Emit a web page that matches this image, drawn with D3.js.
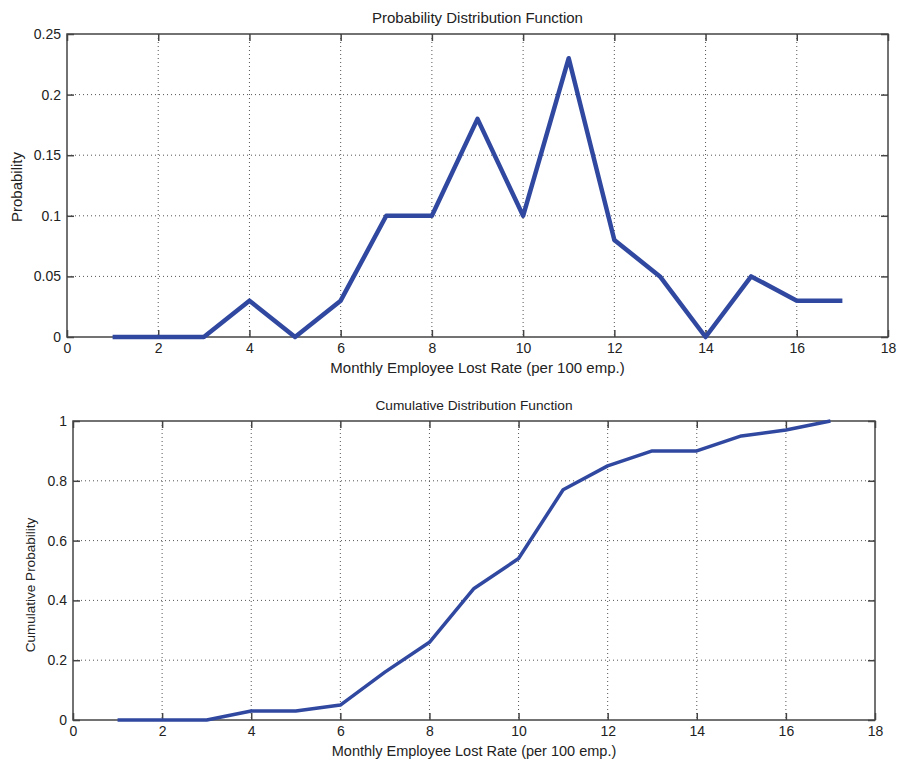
<!DOCTYPE html>
<html><head><meta charset="utf-8">
<script src="https://cdn.jsdelivr.net/npm/d3@7"></script>
<style>body{margin:0;background:#fff}svg{display:block}text{font-family:"Liberation Sans",Arial,sans-serif;fill:#222}</style>
</head><body>
<svg id="c" width="898" height="761"></svg>
<script>
const xs = [1,2,3,4,5,6,7,8,9,10,11,12,13,14,15,16,17];
const pdf = [0,0,0,0.03,0,0.03,0.1,0.1,0.18,0.1,0.23,0.08,0.05,0,0.05,0.03,0.03];
const cdf = [0,0,0,0.03,0.03,0.05,0.16,0.26,0.44,0.54,0.77,0.85,0.90,0.90,0.95,0.97,1.0];
const xTicks = [0,2,4,6,8,10,12,14,16,18];
const pdfTicks = [0,0.05,0.1,0.15,0.2,0.25];
const cdfTicks = [0,0.2,0.4,0.6,0.8,1];

const svg = d3.select("#c");

function panel(o){
  const g = svg.append("g");
  const x = d3.scaleLinear().domain([0,18]).range([o.l,o.r]);
  const y = d3.scaleLinear().domain(o.yd).range([o.b,o.t]);
  g.selectAll(".gx").data(xTicks.slice(1,-1)).join("line")
    .attr("x1",d=>x(d)).attr("x2",d=>x(d)).attr("y1",o.t).attr("y2",o.b)
    .attr("stroke","#555").attr("stroke-width",1).attr("stroke-dasharray","1,3");
  g.selectAll(".gy").data(o.yt.slice(1,-1)).join("line")
    .attr("y1",d=>y(d)).attr("y2",d=>y(d)).attr("x1",o.l).attr("x2",o.r)
    .attr("stroke","#555").attr("stroke-width",1).attr("stroke-dasharray","1,3");
  g.append("rect").attr("x",o.l).attr("y",o.t).attr("width",o.r-o.l).attr("height",o.b-o.t)
    .attr("fill","none").attr("stroke","#444").attr("stroke-width",1.5);
  const ax = d3.axisBottom(x).tickValues(xTicks).tickSize(-7).tickFormat(d3.format("d")).tickPadding(6);
  const axT = d3.axisTop(x).tickValues(xTicks).tickSize(-7).tickFormat("");
  const ay = d3.axisLeft(y).tickValues(o.yt).tickSize(-7).tickFormat(d=>String(d)).tickPadding(6);
  const ayR = d3.axisRight(y).tickValues(o.yt).tickSize(-7).tickFormat("");
  [[ax,`translate(0,${o.b})`],[axT,`translate(0,${o.t})`],[ay,`translate(${o.l},0)`],[ayR,`translate(${o.r},0)`]].forEach(([a,t])=>{
    const ga = g.append("g").attr("transform",t).call(a);
    ga.select(".domain").remove();
    ga.selectAll(".tick line").attr("stroke","#444").attr("stroke-width",1.5);
    ga.selectAll("text").style("font-size","14px").attr("fill","#222");
  });
  g.append("path").datum(xs.map((d,i)=>[d,o.v[i]]))
    .attr("d",d3.line().x(d=>x(d[0])).y(d=>y(d[1])))
    .attr("fill","none").attr("stroke","#3048a0").attr("stroke-width",o.lw).attr("stroke-linejoin","round");
  g.append("text").attr("x",(o.l+o.r)/2).attr("y",o.t-11).attr("text-anchor","middle").style("font-size",o.ts+"px").text(o.title);
  g.append("text").attr("x",(o.l+o.r)/2).attr("y",o.b+36).attr("text-anchor","middle").style("font-size",o.xs+"px").text("Monthly Employee Lost Rate (per 100 emp.)");
  g.append("text").attr("transform",`translate(${o.yl},${o.yc}) rotate(-90)`).attr("text-anchor","middle").style("font-size",o.ys+"px").text(o.ylab);
}

panel({l:67,r:888,t:34,b:337,yd:[0,0.25],yt:pdfTicks,v:pdf,title:"Probability Distribution Function",ylab:"Probability",yl:22,yc:187,lw:4.5,ts:15,xs:15,ys:15});
panel({l:73,r:875,t:421,b:720,yd:[0,1],yt:cdfTicks,v:cdf,title:"Cumulative Distribution Function",ylab:"Cumulative Probability",yl:35,yc:585,lw:3.5,ts:13.7,xs:14.5,ys:13.5});
</script>
</body></html>
